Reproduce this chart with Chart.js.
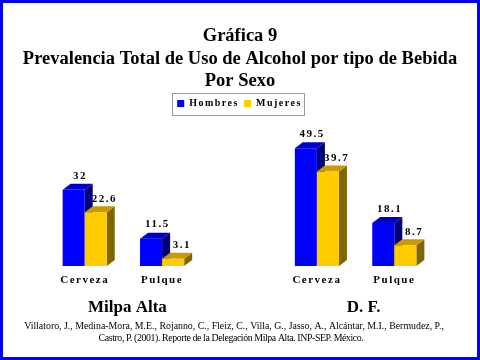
<!DOCTYPE html>
<html><head><meta charset="utf-8">
<script src="https://cdn.jsdelivr.net/npm/chart.js@4.4.1/dist/chart.umd.min.js"></script>
<style>html,body{margin:0;padding:0;background:#fff;}#wrap{width:480px;height:360px;position:relative;}</style>
</head><body><div id="wrap"><canvas id="c" width="480" height="360"></canvas></div>
<script>
const titleLines = ['Gráfica 9', 'Prevalencia Total de Uso de Alcohol por tipo de Bebida', 'Por Sexo'];
const categories = ['Cerveza', 'Pulque', '', 'Cerveza', 'Pulque'];
const groupLabels = ['Milpa Alta', 'D. F.'];
const seriesNames = ['Hombres', 'Mujeres'];
const hombres = [32, 11.5, null, 49.5, 18.1];
const mujeres = [22.6, 3.1, null, 39.7, 8.7];
const footnote = [
  'Villatoro, J., Medina-Mora, M.E., Rojanno, C., Fleiz, C., Villa, G., Jasso, A., Alcántar, M.I., Bermudez, P.,',
  'Castro, P. (2001). Reporte de la Delegación Milpa Alta. INP-SEP. México.'
];

const SERIF = '"Liberation Serif", "Times New Roman", serif';
const frontColors = ['#0000FF', '#FFCC00'];
const sideColors = ['#00007A', '#806600'];
const topColors = ['#0000C4', '#C89A00'];
const labelOffsets = [5.5, 8];
const DX = 8, DY = 6;

const spacingPlugin = {
  id: 'spacing',
  beforeLayout(chart) { chart.ctx.letterSpacing = '1.5px'; },
  beforeDraw(chart) { chart.ctx.letterSpacing = '1.5px'; },
  beforeDatasetDraw() { return false; },
  afterDatasetsDraw(chart) {
    const ctx = chart.ctx;
    const metas = [chart.getDatasetMeta(0), chart.getDatasetMeta(1)];
    const data = chart.data.datasets.map(d => d.data);
    ctx.save();
    ctx.letterSpacing = '1.5px';
    for (let i = 0; i < categories.length; i++) {
      for (let d = 0; d < 2; d++) {
        const v = data[d][i];
        if (v === null || v === undefined) continue;
        const el = metas[d].data[i];
        const {x, y, base, width} = el.getProps(['x', 'y', 'base', 'width'], true);
        const l = x - width / 2, r = x + width / 2;
        ctx.fillStyle = sideColors[d];
        ctx.beginPath();
        ctx.moveTo(r, base); ctx.lineTo(r + DX, base - DY); ctx.lineTo(r + DX, y - DY); ctx.lineTo(r, y);
        ctx.closePath(); ctx.fill();
        ctx.fillStyle = topColors[d];
        ctx.beginPath();
        ctx.moveTo(l, y); ctx.lineTo(l + DX, y - DY); ctx.lineTo(r + DX, y - DY); ctx.lineTo(r, y);
        ctx.closePath(); ctx.fill();
        ctx.fillStyle = frontColors[d];
        ctx.fillRect(l, y, width, base - y);
      }
      for (let d = 0; d < 2; d++) {
        const v = data[d][i];
        if (v === null || v === undefined) continue;
        const el = metas[d].data[i];
        const {x, y} = el.getProps(['x', 'y'], true);
        ctx.fillStyle = '#000';
        ctx.font = 'bold 11px ' + SERIF;
        ctx.textAlign = 'center';
        ctx.textBaseline = 'middle';
        ctx.fillText(String(v), x + labelOffsets[d] + 0.75, y - DY - 8 + d);
      }
    }
    ctx.restore();
  },
  afterDraw(chart) {
    const ctx = chart.ctx;
    ctx.save();
    ctx.letterSpacing = '0px';
    // legend frame
    const hb = chart.legend.legendHitBoxes;
    if (hb && hb.length) {
      const left = Math.min(...hb.map(h => h.left)) - 5;
      const right = Math.max(...hb.map(h => h.left + h.width)) + 2;
      const top = hb[0].top - 6;
      const bottom = hb[0].top + hb[0].height + 6;
      ctx.strokeStyle = '#9a9a9a';
      ctx.lineWidth = 1;
      ctx.strokeRect(Math.round(left) + 0.5, Math.round(top) + 0.5, Math.round(right - left), Math.round(bottom - top));
    }
    // title
    ctx.fillStyle = '#000';
    ctx.textAlign = 'center';
    ctx.textBaseline = 'middle';
    ctx.font = 'bold 18.5px ' + SERIF;
    const ty = [36, 59, 81];
    titleLines.forEach((t, k) => ctx.fillText(t, 240, ty[k]));
    // group labels
    const xs = chart.scales.x;
    ctx.font = 'bold 17px ' + SERIF;
    const groupOffsets = [4, 8];
    groupLabels.forEach((g, k) => {
      const mid = (xs.getPixelForValue(k * 3) + xs.getPixelForValue(k * 3 + 1)) / 2;
      ctx.fillText(g, mid + groupOffsets[k], 308);
    });
    // footnote
    ctx.font = '9.85px ' + SERIF;
    ctx.fillText(footnote[0], 234, 326);
    ctx.letterSpacing = '-0.4px';
    ctx.fillText(footnote[1], 231, 338);
    ctx.letterSpacing = '0px';
    // border
    ctx.strokeStyle = '#0000FF';
    ctx.lineWidth = 3;
    ctx.strokeRect(1.5, 1.5, 477, 357);
    ctx.restore();
  }
};

new Chart(document.getElementById('c'), {
  type: 'bar',
  data: {
    labels: categories,
    datasets: [
      {label: seriesNames[0], data: hombres, backgroundColor: frontColors[0], borderWidth: 0},
      {label: seriesNames[1], data: mujeres, backgroundColor: frontColors[1], borderWidth: 0}
    ]
  },
  options: {
    responsive: false,
    animation: false,
    devicePixelRatio: 1,
    barPercentage: 1,
    categoryPercentage: 0.57,
    layout: {padding: {top: 93.5, left: 46, right: 47, bottom: 0}},
    plugins: {
      legend: {
        position: 'top',
        labels: {
          boxWidth: 7, boxHeight: 7, padding: 5, color: '#000',
          font: {family: SERIF, size: 10, weight: 'bold'}
        }
      },
      title: {display: false},
      tooltip: {enabled: false}
    },
    scales: {
      x: {
        grid: {display: false, drawTicks: false},
        border: {display: false},
        ticks: {padding: 8, color: '#000', autoSkip: false, maxRotation: 0, font: {family: SERIF, size: 11, weight: 'bold'}},
        afterFit(s) { s.height = 94; }
      },
      y: {display: false, min: 0, max: 62}
    }
  },
  plugins: [spacingPlugin]
});
</script>
</body></html>
